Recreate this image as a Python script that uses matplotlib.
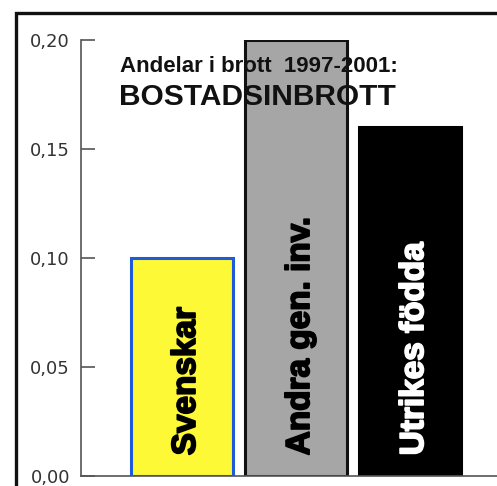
import matplotlib
matplotlib.use("Agg")
import matplotlib.pyplot as plt
import matplotlib.patheffects as pe
from matplotlib import font_manager as fm
from matplotlib.patches import Rectangle

groups = ["Svenskar", "Andra gen. inv.", "Utrikes födda"]
shares = [0.10, 0.20, 0.16]
fills = ["#fdf936", "#a6a6a6", "#000000"]
edges = ["#1f5ad8", "#111111", "#000000"]
text_colors = ["black", "black", "white"]
yticks = [0.00, 0.05, 0.10, 0.15, 0.20]
ytick_labels = ["0,00", "0,05", "0,10", "0,15", "0,20"]

# pick the regular-width Liberation Sans Bold file, not the Narrow one
bold_file = None
for f in fm.findSystemFonts():
    if f.endswith("LiberationSans-Bold.ttf"):
        bold_file = f
        break


def bold(size):
    if bold_file:
        return fm.FontProperties(fname=bold_file, size=size)
    return fm.FontProperties(family="DejaVu Sans", weight="bold", size=size)


W, H = 497, 486
fig = plt.figure(figsize=(W / 100, H / 100), dpi=100)

ax = fig.add_axes([81 / W, 10 / H, (W - 81) / W + 0.02, 436 / H])
x = list(range(len(groups)))
ax.bar(x, shares, width=0.90, color=fills, edgecolor=edges, linewidth=2.2, zorder=2)

for xi, g, c in zip(x, groups, text_colors):
    ax.text(xi + 0.04, 0.0095, g, rotation=90, ha="center", va="bottom",
            fontproperties=bold(24), color=c, zorder=3,
            path_effects=[pe.withStroke(linewidth=1.3, foreground=c)])

ax.set_xlim(-0.885, 2.85)
ax.set_ylim(0, 0.20)
ax.set_yticks(yticks)
ax.set_yticklabels(ytick_labels, fontsize=13, color="#333333")
ax.set_xticks([])
ax.tick_params(axis="y", direction="in", length=10, width=1.2, color="#555555", pad=8)
for s in ["top", "right"]:
    ax.spines[s].set_visible(False)
for s in ["left", "bottom"]:
    ax.spines[s].set_color("#555555")
    ax.spines[s].set_linewidth(1.2)
ax.patch.set_alpha(0)

fig.text(120 / W, 1 - 67 / H, "Andelar i brott  1997-2001:", fontproperties=bold(16),
         va="center", ha="left", color="#111111", zorder=5)
fig.text(119 / W, 1 - 97 / H, "BOSTADSINBROTT", fontproperties=bold(21.5),
         va="center", ha="left", color="#111111", zorder=5)

fig.patches.append(Rectangle((16 / W, -0.1), 1.2, 1 - 13 / H + 0.1, transform=fig.transFigure,
                             fill=False, edgecolor="#111111", linewidth=2.4))

fig.savefig("out.png", dpi=100)
